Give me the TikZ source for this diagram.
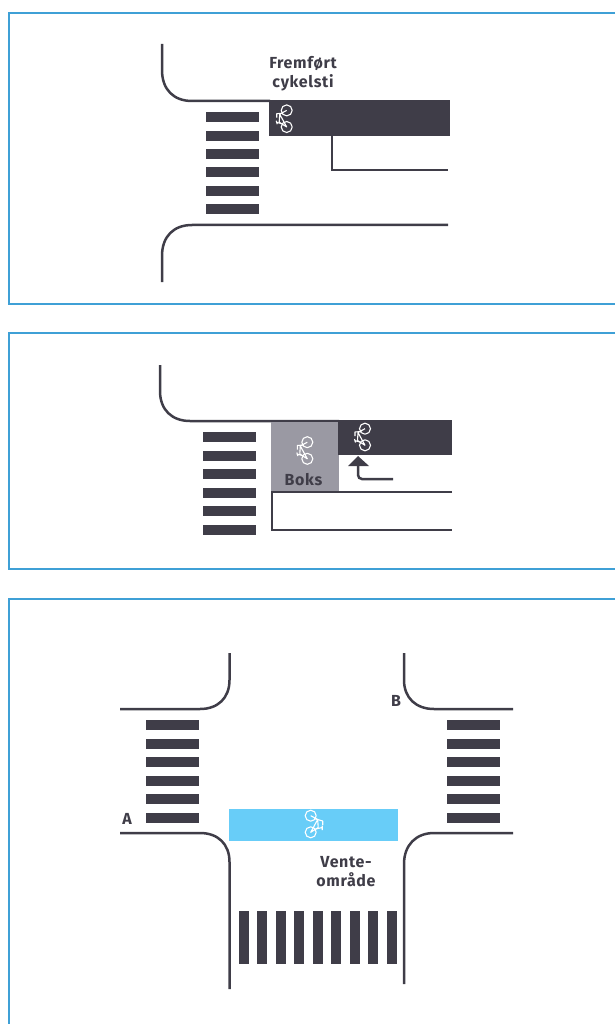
\documentclass[tikz,border=0pt]{standalone}
\usepackage{fontspec}
\setmainfont{Fira Sans}[BoldFont={Fira Sans Bold},LetterSpace=4]
\definecolor{roaddark}{HTML}{3F3D48}
\definecolor{boxgrey}{HTML}{9A99A3}
\definecolor{waitblue}{HTML}{68CDF8}
\definecolor{framebl}{HTML}{3FA0D6}
\tikzset{
  x=1pt,y=-1pt,
  panel/.style={draw=framebl,line width=1.5pt},
  road/.style={draw=roaddark,line width=2.5pt},
  stripe/.style={fill=roaddark,draw=none},
  lab/.style={text=roaddark,font=\fontsize{16}{19.5}\selectfont\bfseries,align=center,inner sep=0pt},
  bikeline/.style={draw=white,line width=1.1pt,line join=round},
  pics/bike/.style={code={
    \draw[bikeline] (0,-8.3) circle[radius=5.5] (0,8.3) circle[radius=5.5];
    \draw[bikeline] (0,-8.3) -- (-7,-4.5) -- (0,8.3) -- (-7.5,3.5) -- (-7,-4.5);
    \draw[bikeline] (-3.5,-5.5) -- (-10,-5) -- (-10,-1);
    \draw[bikeline] (-10.5,2) -- (-9.5,5.5) (-10.5,3.5) -- (-5,5);
  }},
  pics/bikeflip/.style={code={
    \draw[bikeline] (0,-8.3) circle[radius=5.5] (0,8.3) circle[radius=5.5];
    \draw[bikeline] (0,-8.3) -- (7,-4.5) -- (0,8.3) -- (7.5,3.5) -- (7,-4.5);
    \draw[bikeline] (3.5,-5.5) -- (12,-3) -- (12,1);
    \draw[bikeline] (11.5,1.5) -- (11.5,6) (11.5,3.5) -- (5,5);
  }}
}
\newcommand{\hstripes}[3]{%
  \foreach \dy in {#3}
    \fill[stripe] (#1,#2+\dy) rectangle (#1+53,#2+\dy+10);}
\begin{document}
\begin{tikzpicture}
\useasboundingbox (0,0) rectangle (615,1024);
% frames
\draw[panel] (615,13) -- (9,13) -- (9,304) -- (615,304);
\draw[panel] (615,333) -- (9,333) -- (9,569) -- (615,569);
\draw[panel] (615,599) -- (9,599) -- (9,1024);

% panel 1
\draw[road] (162,44) -- (162,70) .. controls (162,90) and (174,101) .. (192,101) -- (270,101);
\fill[roaddark] (269,100) rectangle (450,136);
\hstripes{206}{112}{0,19,37,55,74,92}
\draw[road] (332,136) -- (332,170) -- (448,170);
\draw[road] (448,225) -- (192,225) .. controls (174,225) and (162,236) .. (162,256) -- (162,282);
\pic at (286.7,118.7) {bike};
\node[lab] (t1) at (303,73.5) {Fremført\\cykelsti};

% panel 2
\draw[road] (160,365) -- (160,391) .. controls (160,410) and (172,421) .. (190,421) -- (339,421);
\fill[boxgrey] (271,422) rectangle (339,492);
\fill[roaddark] (338,420) rectangle (452,455);
\hstripes{203}{432}{0,19,37,56,74,93}
\draw[road,rounded corners=4pt] (393,479) -- (358,479) -- (358,464);
\fill[roaddark] (358,456) -- (369,466) -- (348,466) -- cycle;
\draw[road] (452,492) -- (272,492) -- (272,530) -- (452,530);
\pic at (307.3,450.5) {bike};
\pic at (365,437) {bike};
\node[lab] (t2) at (303.5,480) {Boks};

% panel 3
\draw[road] (229.5,653) -- (229.5,680) .. controls (229.5,698) and (218,709) .. (200,709) -- (120,709);
\draw[road] (120,833) -- (200,833) .. controls (218,833) and (229.5,844) .. (229.5,862) -- (229.5,989);
\draw[road] (404,653) -- (404,680) .. controls (404,698) and (416,709) .. (434,709) -- (513,709);
\draw[road] (513,833) -- (434,833) .. controls (416,833) and (404,845) .. (404,864) -- (404,984);
\hstripes{146}{720}{0,19,37,56,74,93}
\hstripes{447}{720}{0,19,37,56,74,93}
\fill[waitblue] (229,809) rectangle (398,841);
\foreach \sx in {239,257,276,294,313,331,350,368,387}
  \fill[stripe] (\sx,911) rectangle (\sx+10,964);
\pic at (310.7,824) {bikeflip};
\node[lab] (ta) at (127,819) {A};
\node[lab] (tb) at (396,701) {B};
\node[lab] (tv) at (346,871.5) {Vente-\\område};
\end{tikzpicture}
\end{document}
